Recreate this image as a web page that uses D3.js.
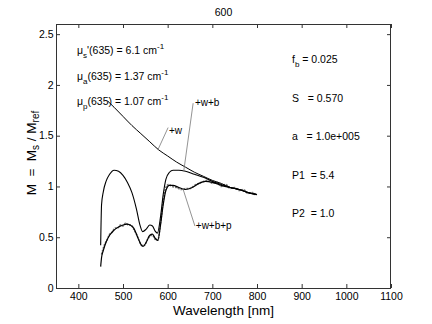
<!DOCTYPE html>
<html><head><meta charset="utf-8">
<script src="https://cdn.jsdelivr.net/npm/d3@7"></script>
<style>
body{margin:0;background:#fff;}
text{font-family:"Liberation Sans",Arial,Helvetica,sans-serif;fill:#000;}
</style></head>
<body><svg id="c" width="432" height="324"></svg>
<script>
// ---- data ----
const chartTitle = "600";
const xTicks = [400, 500, 600, 700, 800, 900, 1000, 1100];
const xTickLabels = ["400", "500", "600", "700", "800", "900", "1000", "1100"];
const yTicks = [0, 0.5, 1, 1.5, 2, 2.5];
const yTickLabels = ["0", "0.5", "1", "1.5", "2", "2.5"];

// "+w" curve
const wNm = [466, 480, 500, 520, 540, 560, 580, 600, 620, 640, 660, 680, 700, 720, 740, 760, 780, 800];
const wVal = [1.84, 1.78, 1.69, 1.60, 1.52, 1.44, 1.36, 1.30, 1.24, 1.19, 1.14, 1.10, 1.06, 1.03, 0.99, 0.97, 0.94, 0.92];

// "+w+b" curve
const wbNm = [450, 452, 456, 462, 470, 480, 490, 500, 510, 520, 530, 538, 544, 552, 560, 566, 572, 577, 584, 590, 596, 604, 612, 625, 640, 660, 680, 700, 720, 740, 760, 780, 800];
const wbVal = [0.42, 0.82, 0.95, 1.05, 1.12, 1.16, 1.15, 1.11, 1.04, 0.94, 0.78, 0.62, 0.555, 0.58, 0.62, 0.61, 0.56, 0.54, 0.70, 0.92, 1.07, 1.14, 1.16, 1.16, 1.15, 1.12, 1.09, 1.05, 1.02, 0.99, 0.97, 0.94, 0.92];

// "+w+b+p" curve
const wbpNm = [450, 452, 456, 462, 470, 480, 490, 500, 508, 516, 524, 532, 540, 545, 552, 560, 566, 572, 578, 584, 590, 596, 604, 612, 625, 640, 655, 670, 685, 700, 720, 740, 760, 780, 800];
const wbpVal = [0.21, 0.30, 0.37, 0.45, 0.52, 0.57, 0.60, 0.62, 0.63, 0.62, 0.59, 0.51, 0.43, 0.41, 0.45, 0.52, 0.53, 0.49, 0.47, 0.62, 0.82, 0.96, 1.01, 1.01, 0.99, 0.97, 0.99, 1.03, 1.05, 1.04, 1.01, 0.99, 0.97, 0.94, 0.92];

// measured (noisy) trace
const measNm = [452, 458, 464, 470, 476, 482, 488, 494, 500, 506, 512, 518, 524, 530, 536, 542, 548, 554, 560, 566, 572, 578, 584, 590, 596, 602, 610, 620, 630, 640, 650, 660, 670, 680, 690, 700, 710, 720, 730, 740, 750, 760, 770, 780, 790, 798];
const measVal = [0.33, 0.42, 0.47, 0.53, 0.55, 0.59, 0.59, 0.62, 0.61, 0.64, 0.62, 0.62, 0.58, 0.53, 0.47, 0.42, 0.42, 0.47, 0.51, 0.52, 0.48, 0.47, 0.64, 0.86, 0.99, 1.02, 1.00, 0.99, 0.97, 0.98, 0.98, 1.01, 1.03, 1.05, 1.06, 1.03, 1.04, 1.00, 1.02, 0.98, 0.99, 0.96, 0.97, 0.93, 0.94, 0.91];

// curve labels
const curveLabels = ["+w", "+w+b", "+w+b+p"];
const leaderFrom = [[578, 1.36], [636, 1.15], [634, 0.98]];
const leaderTo = [[601, 1.58], [657, 1.82], [661, 0.61]];
const labelAt = [[603, 1.52], [661, 1.79], [663, 0.58]];

const muLines = [["μ", "s", "'(635) = 6.1 cm", "-1"], ["μ", "a", "(635) = 1.37 cm", "-1"], ["μ", "p", "(635) = 1.07 cm", "-1"]];
const paramLines = [["f", "b", " = 0.025"], ["S", "", "   = 0.570"], ["a", "", "   = 1.0e+005"], ["P1", "", "  = 5.4"], ["P2", "", "  = 1.0"]];

// ---- drawing ----
const svg = d3.select("#c");
const L = 56, R = 391, T = 24, B = 288;
const x = d3.scaleLinear().domain([350, 1100]).range([L, R]);
const y = d3.scaleLinear().domain([0, 2.6]).range([B, T]);
const axisColor = "#333";

// y label
const ylab = svg.append("text").attr("transform", `translate(36,153) rotate(-90)`)
  .attr("text-anchor", "middle").attr("font-size", 13.5)
  .attr("xml:space", "preserve").style("white-space", "pre");
ylab.append("tspan").text("M  =  M");
ylab.append("tspan").attr("dy", 2.5).attr("font-size", 10).text("s");
ylab.append("tspan").attr("dy", -2.5).text(" / M");
ylab.append("tspan").attr("dy", 2.5).attr("font-size", 10).text("ref");

const g = svg.append("g");
g.append("g").attr("transform", `translate(0,${B})`)
  .call(d3.axisBottom(x).tickValues(xTicks).tickSizeInner(-4).tickSizeOuter(0).tickPadding(5)
    .tickFormat((d, i) => xTickLabels[i]));
g.append("g").attr("transform", `translate(0,${T})`)
  .call(d3.axisTop(x).tickValues(xTicks).tickSizeInner(-4).tickSizeOuter(0).tickFormat(""));
g.append("g").attr("transform", `translate(${L},0)`)
  .call(d3.axisLeft(y).tickValues(yTicks).tickSizeInner(-4).tickSizeOuter(0).tickFormat(""));
g.append("g").attr("transform", `translate(${R},0)`)
  .call(d3.axisRight(y).tickValues(yTicks).tickSizeInner(-4).tickSizeOuter(0).tickFormat(""));
g.selectAll(".domain").remove();
g.selectAll(".tick line").attr("stroke", axisColor);
g.selectAll(".tick text").attr("font-size", 10.5).attr("fill", "#000")
  .style("font-family", '"Liberation Sans",Arial,sans-serif');

// y tick labels
svg.append("g").selectAll("text").data(yTicks).join("text")
  .attr("x", L - 2.5).attr("y", d => y(d)).attr("dy", "0.35em")
  .attr("text-anchor", "end").attr("font-size", 10.5)
  .text((d, i) => yTickLabels[i]);

svg.append("rect").attr("x", L + 0.5).attr("y", T + 0.5).attr("width", R - L - 1).attr("height", B - T)
  .attr("fill", "none").attr("stroke", axisColor).attr("stroke-width", 1);

// curves
const line = d3.line().x(d => x(d[0])).y(d => y(d[1])).curve(d3.curveMonotoneX);
const zip = (a, b) => a.map((v, i) => [v, b[i]]);
svg.append("path").datum(zip(measNm, measVal)).attr("d", line)
  .attr("fill", "none").attr("stroke", "#777").attr("stroke-width", 1.6).attr("stroke-dasharray", "2,1");
svg.append("path").datum(zip(wNm, wVal)).attr("d", line)
  .attr("fill", "none").attr("stroke", "#000").attr("stroke-width", 1);
svg.append("path").datum(zip(wbNm, wbVal)).attr("d", line)
  .attr("fill", "none").attr("stroke", "#000").attr("stroke-width", 1.1);
svg.append("path").datum(zip(wbpNm, wbpVal)).attr("d", line)
  .attr("fill", "none").attr("stroke", "#000").attr("stroke-width", 1.2);

// leaders + labels
curveLabels.forEach((t, i) => {
  svg.append("line").attr("x1", x(leaderFrom[i][0])).attr("y1", y(leaderFrom[i][1]))
    .attr("x2", x(leaderTo[i][0])).attr("y2", y(leaderTo[i][1]))
    .attr("stroke", "#777").attr("stroke-width", 0.8);
  svg.append("text").attr("x", x(labelAt[i][0])).attr("y", y(labelAt[i][1]))
    .attr("font-size", 10).text(t);
});

// mu annotations
muLines.forEach((m, i) => {
  const t = svg.append("text").attr("x", 77).attr("y", 54 + i * 25.5).attr("font-size", 10.5)
    .attr("xml:space", "preserve").style("white-space", "pre");
  t.append("tspan").text(m[0]);
  t.append("tspan").attr("dy", 4).attr("font-size", 8).text(m[1]);
  t.append("tspan").attr("dy", -4).text(m[2]);
  t.append("tspan").attr("dy", -5).attr("font-size", 8).text(m[3]);
});

// parameter annotations
paramLines.forEach((p, i) => {
  const t = svg.append("text").attr("x", 292).attr("y", 63.3 + i * 38.4).attr("font-size", 10.5)
    .attr("xml:space", "preserve").style("white-space", "pre");
  t.append("tspan").text(p[0]);
  if (p[1]) {
    t.append("tspan").attr("dy", 4).attr("font-size", 8).text(p[1]);
    t.append("tspan").attr("dy", -4).text(p[2]);
  } else {
    t.append("tspan").text(p[2]);
  }
});

// title
svg.append("text").attr("x", (L + R) / 2).attr("y", 16).attr("text-anchor", "middle")
  .attr("font-size", 10.5).text(chartTitle);

// x label
svg.append("text").attr("x", (L + R) / 2).attr("y", 315).attr("text-anchor", "middle")
  .attr("font-size", 13.5).text("Wavelength [nm]");
</script></body></html>
